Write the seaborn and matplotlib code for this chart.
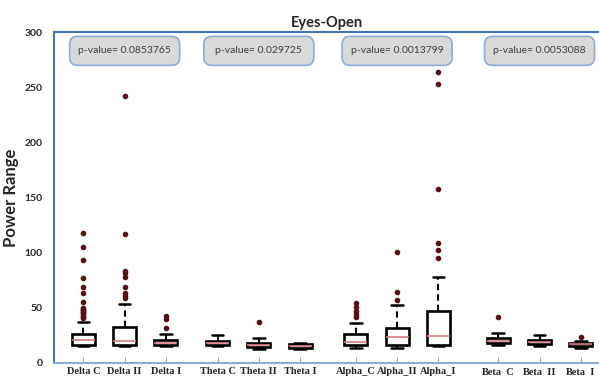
import matplotlib
matplotlib.use("Agg")
import matplotlib.pyplot as plt
from matplotlib.patches import FancyBboxPatch
from matplotlib.transforms import ScaledTranslation
import seaborn as sns
import pandas as pd

# Band / condition labels
groups = ["Delta C", "Delta II", "Delta I",
          "Theta C", "Theta II", "Theta I",
          "Alpha_C", "Alpha_II", "Alpha_I",
          "Beta_C", "Beta_II", "Beta_I"]

# Box summaries: lower whisker, Q1, median, Q3, upper whisker
whisker_low = [15.0, 15.0, 15.0, 15.0, 13.0, 13.0, 14.0, 14.0, 15.0, 16.0, 15.5, 13.5]
q1 = [16.3, 16.3, 16.0, 16.0, 14.8, 14.0, 16.3, 16.3, 16.3, 17.8, 17.0, 15.4]
median = [20.5, 20.0, 18.5, 18.0, 16.5, 15.5, 19.3, 24.0, 24.5, 20.0, 19.0, 17.0]
q3 = [26.0, 33.0, 21.0, 20.0, 18.5, 17.0, 26.0, 32.0, 47.4, 22.7, 21.0, 18.2]
whisker_high = [37.5, 53.5, 26.0, 25.0, 23.0, 18.5, 36.5, 53.0, 78.0, 27.0, 25.0, 20.0]

# Outlying observations per group
outliers = [
    [41, 42, 43, 44, 45, 46, 47, 48, 49, 50, 55.6, 63.2, 68.6, 76.8, 93.4, 105, 118],
    [59, 61, 63.7, 69.2, 77.6, 81.3, 83.4, 117, 242],
    [32, 40, 43],
    [],
    [37.5],
    [],
    [41.5, 44.5, 47.5, 50.5, 54],
    [57, 64.4, 101],
    [95, 102, 109, 158, 252.5, 263.5],
    [41.4],
    [],
    [23.3],
]

p_values = ["0.0853765", "0.029725", "0.0013799", "0.0053088"]

# Horizontal layout of the boxes (bands separated by wider gaps)
positions = [0, 1, 2, 3.25, 4.25, 5.25, 6.6, 7.6, 8.6, 10.05, 11.05, 12.05]
label_centres = [1, 4.25, 7.6, 11.05]

# Long-format table whose quartiles / whiskers reproduce the summaries
rows = []
for pos, lo, a, m, b, hi, out in zip(positions, whisker_low, q1, median, q3,
                                     whisker_high, outliers):
    k = len(out) + 5
    vals = [lo] + [a] * k + [m] * k + [b] * k + [hi] + list(out)
    rows.extend({"pos": pos, "value": v} for v in vals)
df = pd.DataFrame(rows)

sns.set_theme(style="white")
plt.rcParams["font.family"] = ["Lato", "DejaVu Sans"]

fig = plt.figure(figsize=(5.99, 3.76), dpi=100)
ax = fig.add_axes([0.0902, 0.0346, 0.9098, 0.880])

sns.boxplot(
    data=df, x="pos", y="value", native_scale=True, ax=ax,
    width=0.56, color="white", linecolor="black", linewidth=1.9,
    fliersize=3.0,
    flierprops=dict(marker="o", markerfacecolor="#5a0d12",
                    markeredgecolor="#5a0d12"),
    medianprops=dict(color="#d97a7f", linewidth=1.2),
    whiskerprops=dict(linewidth=1.5, linestyle=(0, (3, 2))),
    capprops=dict(linewidth=1.8),
)

ax.set_xlim(-0.71, 12.49)
ax.set_ylim(0, 300)
ax.set_yticks([0, 50, 100, 150, 200, 250, 300])
ax.set_xticks(positions)
ax.set_xticklabels(groups, fontfamily="Liberation Serif", fontweight="bold",
                   fontsize=7.5)
ax.tick_params(axis="x", direction="in", length=4, width=0.8,
               color="#a6a6a6", pad=3, bottom=True)
ax.tick_params(axis="y", length=0, pad=8, labelsize=7.5)
for lab in ax.get_yticklabels():
    lab.set_fontweight("bold")

ax.set_xlabel("")
ax.set_ylabel("Power Range", fontsize=12, fontweight="bold")
ax.yaxis.set_label_coords(-0.064, 0.5)
ax.set_title("Eyes-Open", fontsize=10.5, fontweight="bold", pad=4)

ax.spines["right"].set_visible(False)
for side in ("left", "top"):
    ax.spines[side].set_color("#4472c4")
    ax.spines[side].set_linewidth(1.5)
ax.spines["bottom"].set_color("#8eaadb")
ax.spines["bottom"].set_linewidth(1.5)

# Rounded p-value call-outs above each band
for xc, pv in zip(label_centres, p_values):
    tr = fig.dpi_scale_trans + ScaledTranslation(xc, 283, ax.transData)
    box = FancyBboxPatch((-0.55, -0.145), 1.10, 0.29,
                         boxstyle="round,pad=0,rounding_size=0.08",
                         facecolor="#d9d9d9", edgecolor="#8eaadb",
                         linewidth=1.2, transform=tr, zorder=5)
    ax.add_patch(box)
    ax.text(xc, 283, f"p-value= {pv}", ha="center", va="center",
            fontsize=7.5, color="#404040", zorder=6)

fig.savefig("out.png", dpi=100)
